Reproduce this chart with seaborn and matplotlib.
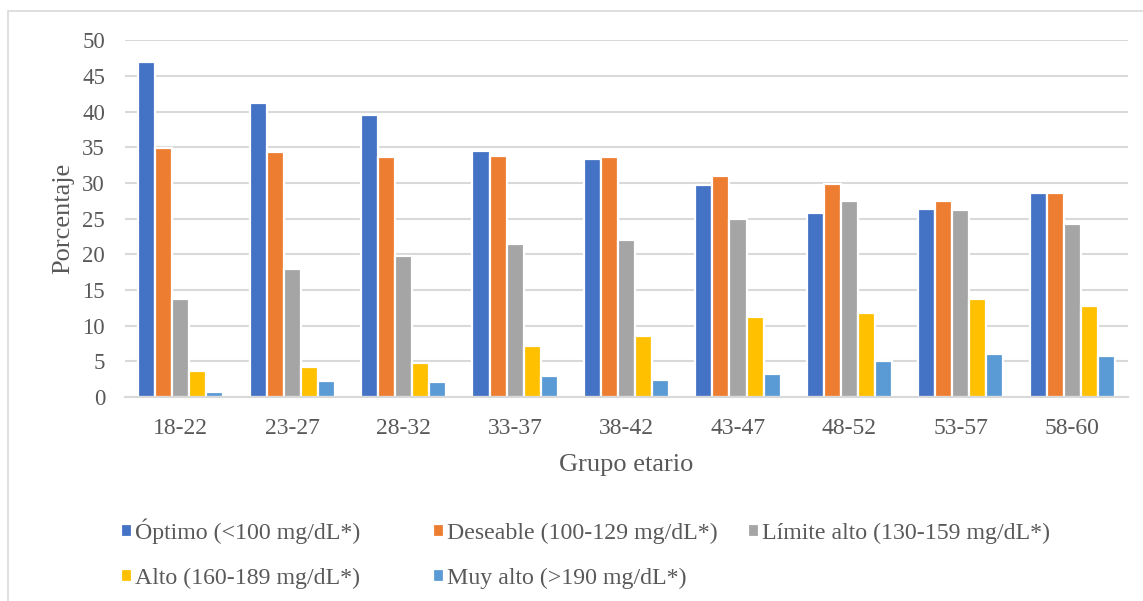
import matplotlib
matplotlib.use("Agg")
import matplotlib.pyplot as plt
from matplotlib.patches import Rectangle
import seaborn as sns
import pandas as pd

# Age groups and LDL-cholesterol categories
grupos = ["18-22", "23-27", "28-32", "33-37", "38-42", "43-47", "48-52", "53-57", "58-60"]
categorias = [
    "Óptimo (<100 mg/dL*)",
    "Deseable (100-129 mg/dL*)",
    "Límite alto (130-159 mg/dL*)",
    "Alto (160-189 mg/dL*)",
    "Muy alto (>190 mg/dL*)",
]

optimo = [46.9, 41.2, 39.5, 34.5, 33.4, 29.7, 25.8, 26.4, 28.6]
deseable = [34.9, 34.3, 33.7, 33.8, 33.7, 31.0, 29.9, 27.5, 28.6]
limite_alto = [13.8, 18.0, 19.7, 21.4, 22.0, 24.9, 27.5, 26.2, 24.3]
alto = [3.6, 4.2, 4.8, 7.2, 8.5, 11.2, 11.8, 13.8, 12.8]
muy_alto = [0.7, 2.2, 2.1, 3.0, 2.4, 3.2, 5.0, 6.1, 5.7]

colores = ["#4472C4", "#ED7D31", "#A5A5A5", "#FFC000", "#5B9BD5"]

series = [optimo, deseable, limite_alto, alto, muy_alto]
df = pd.DataFrame(
    [(g, c, v) for c, vals in zip(categorias, series) for g, v in zip(grupos, vals)],
    columns=["grupo", "categoria", "porcentaje"],
)

sns.set_theme(style="white")
plt.rcParams["font.family"] = ["Liberation Serif", "DejaVu Serif"]
texto = "#595959"

fig = plt.figure(figsize=(11.43, 6.01), dpi=100)
ax = fig.add_axes([0.1094, 0.3394, 0.8775, 0.5935])

sns.barplot(
    data=df, x="grupo", y="porcentaje", hue="categoria",
    order=grupos, hue_order=categorias, palette=colores,
    width=0.765, gap=0.0, edgecolor="white", linewidth=1.6,
    saturation=1, ax=ax, legend=True, errorbar=None,
)

ax.set_ylim(0, 50)
ax.set_yticks(range(0, 51, 5))
ax.set_xlim(-0.5, len(grupos) - 0.5)
ax.yaxis.grid(True, color="#D9D9D9", linewidth=1.5)
ax.set_axisbelow(True)
for s in ["top", "right", "left"]:
    ax.spines[s].set_visible(False)
ax.spines["bottom"].set_color("#D9D9D9")
ax.spines["bottom"].set_linewidth(1.5)
ax.tick_params(axis="both", length=0, colors=texto)
ax.tick_params(axis="x", labelsize=17, pad=15)
ax.tick_params(axis="y", labelsize=16.5, pad=14.4)
ax.set_ylabel("Porcentaje", fontsize=19, color=texto, labelpad=5.5)
ax.set_xlabel("Grupo etario", fontsize=19, color=texto, labelpad=11)

# Legend below the plot: three equally spaced columns, two rows
# (each entry anchored by its bottom edge so the baselines line up)
handles, labels = ax.get_legend_handles_labels()
ax.get_legend().remove()
posiciones = [(121, 544), (433, 544), (748, 544), (121, 589), (433, 589)]
for h, lab, (x0, y0) in zip(handles, labels, posiciones):
    fig.legend(
        [h], [lab],
        loc="lower left", bbox_to_anchor=(x0 / 1143, 1 - y0 / 601),
        frameon=False, fontsize=17.2, labelcolor=texto,
        handlelength=0.45, handleheight=0.45, handletextpad=0.15,
        borderpad=0, borderaxespad=0,
    )

# Chart frame
fig.patches.append(Rectangle((8 / 1143, -0.1), 1.2, 1 - 11 / 601 + 0.1,
                             transform=fig.transFigure, fill=False,
                             edgecolor="#D9D9D9", linewidth=1.2))

fig.savefig("out.png", dpi=100)
